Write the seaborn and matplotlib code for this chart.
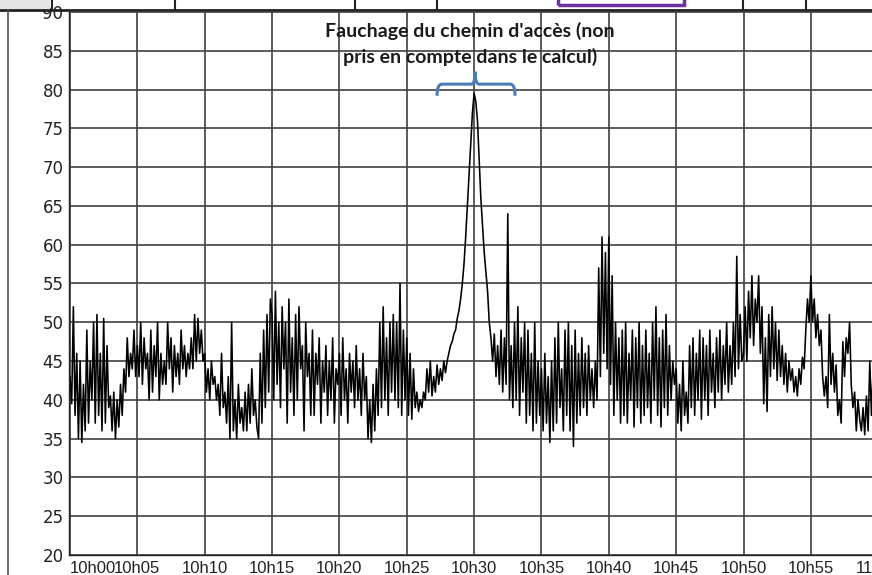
import numpy as np
import matplotlib.pyplot as plt
import matplotlib.patches as mpatches
from matplotlib.path import Path
from matplotlib.lines import Line2D
import seaborn as sns
import pandas as pd

SAMPLES_PER_MIN = 8  # one value every 7.5 s

# niveau sonore (dB), 10 minutes per block
lvl_1000 = [
    43, 39.5, 52, 38, 46, 35, 45, 34.5,
    42, 36, 49, 37, 45, 40, 50, 37,
    51, 38, 46, 36, 50.5, 37, 47, 39,
    40.5, 36, 41, 35, 40, 36.5, 42, 38,
    44, 41, 48, 43, 46, 44, 49, 43,
    47, 43, 50, 42, 48, 44, 46, 40,
    49, 41, 47, 43, 50, 40, 46, 42,
    45, 42, 50, 44, 48, 41, 47, 43,
    46, 42, 49, 44, 47, 43, 46, 44,
    48, 44, 51, 45, 50.5, 46, 49, 45,
]
lvl_1010 = [
    46, 41, 44, 40, 45, 42, 43, 40,
    42, 38, 46, 39, 41, 37, 43, 35,
    50, 36, 40, 35, 42, 37, 39, 36,
    41, 36, 42, 37, 44, 38, 40, 36.5,
    35, 46, 37, 49, 39, 51, 41, 53,
    51, 40, 54, 42, 50, 39, 52, 44,
    50, 37, 53, 41, 48, 38, 51, 40,
    52, 44, 47, 36, 50, 43, 46, 38,
    49, 38, 46, 42, 48, 37, 45, 41,
    47, 38, 45, 40, 48, 37, 44, 42,
]
lvl_1020 = [
    46, 38, 48, 40, 44, 37, 46, 41,
    45, 39, 47, 40, 44, 38, 46, 40,
    43, 35, 40, 34.5, 42, 36, 44, 38,
    50, 39, 52, 40, 48, 38, 50, 41,
    51, 40, 50, 39, 55, 38, 49, 40,
    48, 38, 46, 37.5, 44, 39, 41, 38.5,
    40, 39, 41, 40, 44, 41, 45, 40.5,
    43, 41, 44.5, 42, 44, 42.5, 45, 43.5,
    45, 46, 47, 47.5, 48.5, 49, 50.5, 51.5,
    53, 55, 57.5, 61, 65, 69, 73, 77,
]
lvl_1030 = [
    79.5, 78.5, 76, 71, 66, 62.5, 59, 56.5,
    54, 50, 48, 45, 48.5, 43, 47, 42,
    49, 41, 48, 42, 64, 40, 47, 39,
    50, 40, 52, 38, 48, 41, 50, 37,
    49, 38, 46, 36, 50, 37, 45, 38,
    44, 36, 46, 37, 43, 34.5, 45, 36,
    48, 37, 50, 39, 44, 36, 49, 38,
    50, 36, 47, 34, 49, 37, 46, 38,
    48, 39, 46, 38, 47, 40, 44, 39,
    45, 40, 57, 43, 61, 46, 59, 44,
]
lvl_1040 = [
    61, 42, 56, 38, 50, 40, 48, 37,
    49, 38, 50, 37, 46, 40, 49, 36.5,
    48, 39, 50, 37, 47, 38, 49, 39,
    46, 37, 50, 40, 52, 38, 48, 36.5,
    49, 39, 51, 38, 47, 40, 45, 42,
    44, 37, 42, 36, 45, 38, 41, 37,
    47, 39, 48, 38, 46, 40, 49, 37.5,
    48, 40, 47, 38, 49, 41, 46, 39,
    48, 41, 49, 40, 47, 42, 50, 41,
    47, 42, 50, 43, 58.5, 44, 51, 45,
]
lvl_1050 = [
    46, 52, 45, 54, 48, 56, 47, 53,
    50, 56, 46, 52, 39.5, 48, 38.5, 51,
    43, 52, 44, 50, 42.5, 49, 43, 47,
    42, 46, 41, 45, 42.5, 44, 41, 43,
    40.5, 44, 42, 45.5, 44, 49, 53, 50,
    56, 50, 53, 48, 51, 47, 49, 43,
    40.5, 43, 39, 51, 42, 46, 41, 44.5,
    38, 40, 37, 47.5, 43, 48, 46, 50,
    42, 39, 41, 36, 40, 37.5, 36, 39,
    35.5, 40.5, 36, 45, 38, 44, 40, 42,
    41,
]

y_ticks = list(range(20, 91, 5))
x_ticks = list(range(0, 61, 5))
x_tick_labels = ["10h00", "10h05", "10h10", "10h15", "10h20", "10h25", "10h30",
                 "10h35", "10h40", "10h45", "10h50", "10h55", "11h00"]
note = "Fauchage du chemin d'accès (non\npris en compte dans le calcul)"

levels = lvl_1000 + lvl_1010 + lvl_1020 + lvl_1030 + lvl_1040 + lvl_1050
df = pd.DataFrame({"minute": np.arange(len(levels)) / SAMPLES_PER_MIN, "dB": levels})

sns.set_theme(style="white")
plt.rcParams['font.family'] = ['Liberation Sans', 'DejaVu Sans']

W, H = 872, 575
fig = plt.figure(figsize=(W / 100, H / 100), dpi=100)
fig.patch.set_facecolor("white")

# axes placed in pixels of the (cropped) screenshot
ax_l, ax_b, ax_w, ax_h = 69, 20, 811, 543
ax = fig.add_axes([ax_l / W, ax_b / H, ax_w / W, ax_h / H])

sns.lineplot(data=df, x="minute", y="dB", color="black", lw=1.15, ax=ax)

ax.set_xlim(-1 / 13.47, -1 / 13.47 + ax_w / 13.47)
ax.set_ylim(20, 90)
ax.set_xticks(x_ticks)
ax.set_xticklabels(x_tick_labels, fontsize=12, color="#222222",
                   family=["Liberation Sans", "DejaVu Sans"])
ax.get_xticklabels()[0].set_horizontalalignment("left")
ax.set_yticks(y_ticks)
ax.set_yticklabels([str(v) for v in y_ticks], fontsize=12, color="#222222",
                   family="DejaVu Sans")
ax.set_xlabel("")
ax.set_ylabel("")
ax.grid(True, color="#404040", lw=1.2)
ax.set_axisbelow(True)
ax.tick_params(axis="both", direction="out", length=3, width=1, color="#333333", pad=1)
for side in ["top", "right"]:
    ax.spines[side].set_visible(False)
for side in ["left", "bottom"]:
    ax.spines[side].set_color("#222222")
    ax.spines[side].set_linewidth(1)

# annotation + blue brace over the mowing peak
ax.text(29.7, 85.9, note, ha="center", va="center", fontsize=14,
        fontweight="bold", family=["Lato", "DejaVu Sans"], color="#1a1a1a",
        linespacing=1.5)
brace = Path(
    [(27.25, 79.2), (27.25, 80.7), (27.6, 80.7),
     (29.8, 80.7), (30.07, 80.7), (30.07, 82.3),
     (30.07, 80.7), (30.35, 80.7),
     (32.7, 80.7), (33.04, 80.7), (33.04, 79.2)],
    [Path.MOVETO, Path.CURVE3, Path.CURVE3,
     Path.LINETO, Path.CURVE3, Path.CURVE3,
     Path.CURVE3, Path.CURVE3,
     Path.LINETO, Path.CURVE3, Path.CURVE3])
ax.add_patch(mpatches.PathPatch(brace, fill=False, edgecolor="#4a7ebb", lw=2.2,
                                clip_on=False))

# bits of the spreadsheet around the pasted chart
def fx(px):
    return px / W

def fy(py):
    return 1 - py / H

fig.add_artist(mpatches.Rectangle((fx(0), fy(9)), fx(50), 9 / H, color="#e6e6e6", lw=0))
fig.add_artist(Line2D([0, 1], [fy(10), fy(10)], color="#222222", lw=2))
for px in [52, 175, 355, 437, 743, 806]:
    fig.add_artist(Line2D([fx(px), fx(px)], [fy(0), fy(9)], color="#222222", lw=1.5))
fig.add_artist(mpatches.Rectangle((fx(558), fy(5)), fx(126), 10 / H, fill=False,
                                  edgecolor="#7030a0", lw=2.5))
fig.add_artist(Line2D([fx(8), fx(8)], [0, fy(10)], color="#555555", lw=1.2))

fig.savefig("out.png", dpi=100, facecolor="white")
